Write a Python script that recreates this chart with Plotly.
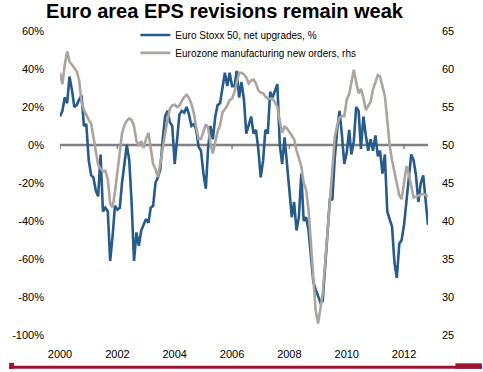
import plotly.graph_objects as go
import pandas as pd

# ---- data (monthly, Jan 2000 onwards) ----
start_month = "2000-01-01"

eps_net_upgrades = [
    15, 18, 25, 22, 36, 29, 20, 21, 24, 26,
    10, 11, -8, -16, -17, -24, -27, -5, -35, -33,
    -35, -61, -48, -32, -34, -33, -20, -11, 0, -8,
    -30, -61, -46, -53, -45, -42, -39, -41, -33, -32,
    -20, -17, -13, 3, 15, 18, 12, 10, -10, 3,
    16, 18, 17, 20, 16, 10, 11, 8, -1, -3,
    -15, -23, -2, 10, 3, 15, 21, 22, 31, 38,
    31, 38, 31, 31, 39, 25, 33, 24, 6, 10,
    15, 6, 8, -2, -17, -8, 8, 6, 28, 25,
    28, 32, 0, -10, 4, -10, -24, -38, -30, -45,
    -38, -15, -40, -38, -45, -58, -72, -76, -80, -83,
    -82, -63, -43, -28, -29, -7, 8, 18, 5, -10,
    -4, 8, -5, 2, 20, 18, -2, 15, 5, -3,
    3, -3, 5, -6, -3, -15, -5, -35, -39, -43,
    -62, -70, -52, -50, -42, -30, -19, -5, -8, -16,
    -30, -20, -16, -28, -42,
]

new_orders = [
    59.5, 58.0, 60.5, 62.3, 61.0, 60.6, 60.2, 59.7, 58.5, 55.7,
    54.6, 53.9, 53.3, 52.8, 51.0, 49.0, 47.4, 46.9, 46.5, 46.6,
    45.5, 42.3, 41.8, 43.8, 46.2, 49.3, 51.5, 52.6, 53.2, 53.5,
    53.3, 52.5, 50.5, 50.0, 50.5, 49.6, 50.8, 51.6, 49.5, 47.5,
    46.8, 45.8, 47.5, 49.8, 51.5, 53.3, 54.8, 55.2, 55.3, 55.0,
    55.2, 55.8, 56.3, 56.6, 56.2, 55.4, 54.2, 52.3, 50.8, 50.8,
    51.8, 52.7, 52.3, 50.2, 48.9, 50.6, 51.8, 52.6, 54.3, 54.7,
    55.2, 55.9, 56.1, 57.0, 58.4, 59.5, 59.5, 59.3, 58.9, 58.1,
    58.5, 58.6, 58.1, 57.2, 56.9, 56.8, 56.4, 56.1, 56.1, 56.1,
    55.6, 55.0, 53.2, 51.6, 52.4, 52.2, 51.7, 51.2, 50.8, 49.3,
    48.4, 47.2, 45.0, 44.1, 41.5, 37.2, 32.3, 28.2, 26.5, 28.4,
    30.5, 34.5, 38.7, 43.3, 47.9, 51.0, 52.6, 53.6, 53.8, 53.8,
    56.0, 56.7, 58.2, 59.9, 58.3, 56.8, 57.4, 56.2, 54.6, 55.2,
    55.7, 57.3, 58.2, 59.2, 59.0, 57.9, 56.5, 53.3, 50.0, 48.0,
    46.3, 45.1, 43.4, 42.9, 45.0, 47.2, 46.2, 44.4, 43.1, 43.2,
    43.3, 43.5, 43.6, 43.4, 43.2,
]

tick_years = ["2000", "2002", "2004", "2006", "2008", "2010", "2012"]
left_ticks = [-100, -80, -60, -40, -20, 0, 20, 40, 60]
left_tick_labels = ["-100%", "-80%", "-60%", "-40%", "-20%", "0%", "20%", "40%", "60%"]
right_ticks = [25, 30, 35, 40, 45, 50, 55, 60, 65]

series_names = ["Euro Stoxx 50, net upgrades, %",
                "Eurozone manufacturing new orders, rhs"]
title_text = "Euro area EPS revisions remain weak"

# ---- figure ----
dates = pd.date_range(start_month, periods=len(eps_net_upgrades), freq="MS")
x_end = dates[-1]
tick_dates = [pd.Timestamp(y + "-01-01") for y in tick_years]

W, H = 483, 372
ML, MR, MT, MB = 52, 55, 31, 35
PW, PH = W - ML - MR, H - MT - MB

def px_x(p):
    return (p - ML) / PW

def px_y(p):
    return (H - MB - p) / PH

FONT = "Liberation Sans, Arial, sans-serif"
BLUE = "#275b8b"
GREY = "#aca49e"
RED = "#9b1530"

fig = go.Figure()
fig.add_trace(go.Scatter(x=dates, y=eps_net_upgrades, name=series_names[0],
                         mode="lines", line=dict(color=BLUE, width=2.6),
                         legend="legend"))
fig.add_trace(go.Scatter(x=dates, y=new_orders, name=series_names[1],
                         mode="lines", line=dict(color=GREY, width=2.6),
                         yaxis="y2", legend="legend2"))

shapes = [
    dict(type="line", xref="x", yref="y", x0=dates[0], x1=x_end, y0=0, y1=0,
         line=dict(color="#808080", width=2.5), layer="below"),
]
for td in tick_dates:
    shapes.append(dict(type="line", xref="x", yref="y", ysizemode="pixel",
                       yanchor=0, x0=td, x1=td, y0=0, y1=-4,
                       line=dict(color="#808080", width=1.5), layer="below"))
# bottom frame
shapes.append(dict(type="rect", xref="paper", yref="paper",
                   x0=px_x(0), x1=px_x(W), y0=px_y(368), y1=px_y(371),
                   line=dict(width=0), fillcolor=RED))
shapes.append(dict(type="rect", xref="paper", yref="paper",
                   x0=px_x(0), x1=px_x(5), y0=px_y(365), y1=px_y(371),
                   line=dict(width=0), fillcolor=RED))
shapes.append(dict(type="rect", xref="paper", yref="paper",
                   x0=px_x(456), x1=px_x(W), y0=px_y(365.5), y1=px_y(371),
                   line=dict(width=0), fillcolor=RED))

legend_common = dict(xanchor="left", yanchor="middle", bgcolor="rgba(0,0,0,0)",
                     font=dict(size=10, family=FONT, color="black"),
                     itemwidth=30, borderwidth=0)

fig.update_layout(
    width=W, height=H,
    margin=dict(l=ML, r=MR, t=MT, b=MB, pad=0),
    paper_bgcolor="white", plot_bgcolor="white",
    font=dict(family=FONT, size=11, color="black"),
    title=dict(text="<b>" + title_text + "</b>", x=224.5 / W, xanchor="center",
               xref="container", yref="container", y=1 - 10.5 / H, yanchor="middle",
               pad=dict(t=0, b=0, l=0, r=0), font=dict(size=20, family=FONT, color="black")),
    showlegend=True,
    legend=dict(x=px_x(129), y=px_y(35), **legend_common),
    legend2=dict(x=px_x(129), y=px_y(53), **legend_common),
    xaxis=dict(range=[dates[0], x_end], tickvals=tick_dates, ticktext=tick_years,
               showgrid=False, zeroline=False, showline=False,
               ticks="", ticklabelstandoff=11,
               tickfont=dict(size=11)),
    yaxis=dict(range=[-100, 60], tickvals=left_ticks, ticktext=left_tick_labels,
               showgrid=False, zeroline=False, showline=False,
               ticks="", ticklabelstandoff=15,
               tickfont=dict(size=11)),
    yaxis2=dict(range=[25, 65], tickvals=right_ticks, overlaying="y", side="right",
                showgrid=False, zeroline=False, showline=False,
                ticks="", ticklabelstandoff=13,
                tickfont=dict(size=11)),
    shapes=shapes,
)

fig.write_html("out.html", config={"displayModeBar": False},
               post_script="document.body.style.margin='0';document.body.style.overflow='hidden';")
